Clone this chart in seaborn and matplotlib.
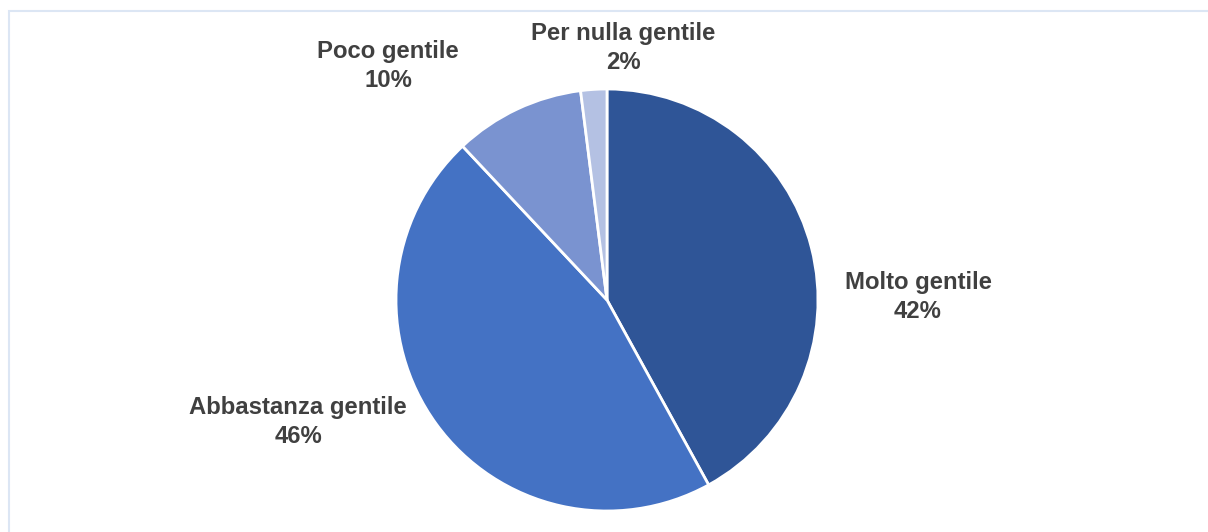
import matplotlib
matplotlib.use("Agg")
import matplotlib.pyplot as plt
import seaborn as sns
from matplotlib.patches import Rectangle

categories = ["Molto gentile", "Abbastanza gentile", "Poco gentile", "Per nulla gentile"]
values = [42, 46, 10, 2]
colors = ["#2F5597", "#4472C4", "#7A93D0", "#B4C1E3"]
label_pos = [(1.474, 0.014), (-1.464, -0.578), (-1.038, 1.109), (0.076, 1.194)]

sns.set_theme(style="white")
plt.rcParams["font.family"] = ["Liberation Sans", "DejaVu Sans"]

W, H = 1208, 532
fig = plt.figure(figsize=(W / 100, H / 100), dpi=100)
fig.patch.set_facecolor("white")

# light border of chart area
fig.patches.append(Rectangle((8.5 / W, -0.1), 1.2, (H - 10.5) / H + 0.1,
                             transform=fig.transFigure, fill=False,
                             edgecolor="#DCE6F4", linewidth=1.5))

cx, cy, r = 607, 300, 211
ax = fig.add_axes([(cx - r) / W, (H - cy - r) / H, 2 * r / W, 2 * r / H])
ax.pie(values, colors=colors, startangle=90, counterclock=False,
       wedgeprops=dict(edgecolor="white", linewidth=2.0))
ax.set_xlim(-1, 1)
ax.set_ylim(-1, 1)
ax.set_aspect("equal")
ax.axis("off")

for cat, v, (x, y) in zip(categories, values, label_pos):
    ax.text(x, y, f"{cat}\n{v}%", ha="center", va="center", fontsize=17.2,
            fontweight="bold", color="#404040", linespacing=1.35, clip_on=False)

fig.savefig("out.png", dpi=100)
